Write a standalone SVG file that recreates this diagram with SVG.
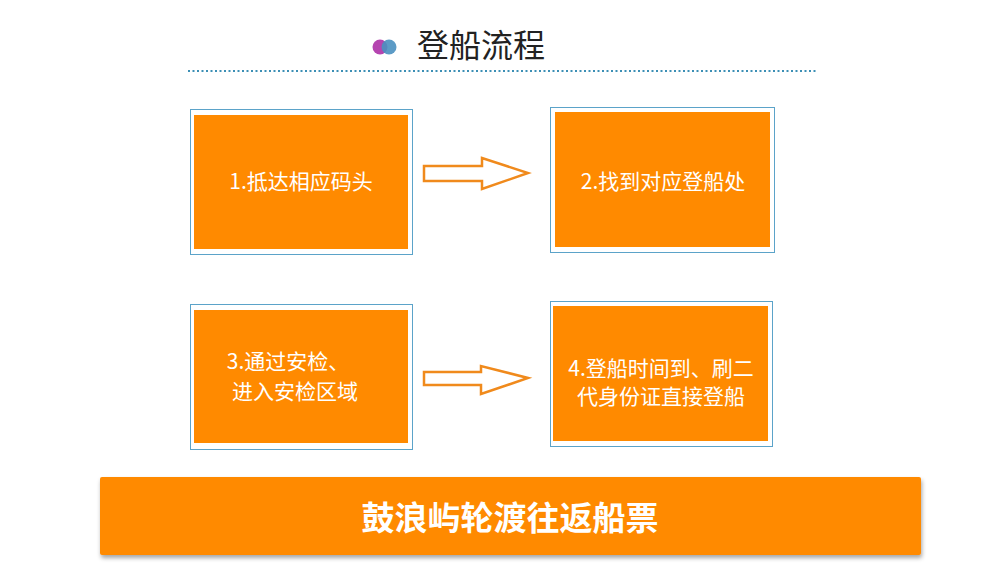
<svg xmlns="http://www.w3.org/2000/svg" width="1000" height="565" viewBox="0 0 1000 565">
<defs>
<style>
.outer{fill:#fff;stroke:#5ba3c9;stroke-width:1}
.inner{fill:#ff8a00}
.t{font-family:"Noto Sans CJK SC","Noto Sans",sans-serif;fill:#fff;font-size:21px;text-anchor:middle}
.arr{fill:#fff;stroke:#f08a1c;stroke-width:2.5;stroke-linejoin:miter}
</style>
<filter id="sh" x="-5%" y="-20%" width="110%" height="140%"><feDropShadow dx="1" dy="3" stdDeviation="2" flood-color="#000" flood-opacity="0.35"/></filter>
</defs>
<rect width="1000" height="565" fill="#fff"/>
<g id="title">
<circle cx="380" cy="47" r="7.5" fill="#b545b0"/>
<circle cx="389" cy="47" r="7.5" fill="#4a90c0" opacity="0.9"/>
<text x="417" y="57" font-family="Noto Sans CJK SC,sans-serif" font-size="32" fill="#222">登船流程</text>
<line x1="188" y1="71" x2="818" y2="71" stroke="#3c8fb5" stroke-width="2" stroke-dasharray="2,2.5"/>
</g>
<g id="n1"><rect class="outer" x="190.5" y="109.5" width="222" height="145"/><rect class="inner" x="194" y="115" width="214" height="134"/><text class="t" x="301" y="189">1.抵达相应码头</text></g>
<g id="n2"><rect class="outer" x="550.5" y="107.5" width="224" height="145"/><rect class="inner" x="555" y="112" width="215" height="135"/><text class="t" x="663" y="189">2.找到对应登船处</text></g>
<g id="n3"><rect class="outer" x="190.5" y="304.5" width="222" height="145"/><rect class="inner" x="194" y="310" width="214" height="133"/><text class="t" x="288" y="369">3.通过安检、</text><text class="t" x="295" y="399">进入安检区域</text></g>
<g id="n4"><rect class="outer" x="550.5" y="301.5" width="222" height="145"/><rect class="inner" x="553" y="306" width="215" height="135"/><text class="t" x="661" y="376">4.登船时间到、刷二</text><text class="t" x="661" y="404">代身份证直接登船</text></g>
<g id="connectors">
<polygon class="arr" points="424,166 482,166 482,158 528,173 482,189 482,181 424,181"/>
<polygon class="arr" points="424,372 481,372 481,366 528,378 481,394 481,385 424,385"/>
</g>
<g id="banner"><rect x="100" y="477" width="821" height="78" rx="2" fill="#ff8a00" filter="url(#sh)"/><text x="510" y="530" font-family="Noto Sans CJK SC,sans-serif" font-size="33" font-weight="bold" fill="#fff" text-anchor="middle">鼓浪屿轮渡往返船票</text></g>
</svg>
